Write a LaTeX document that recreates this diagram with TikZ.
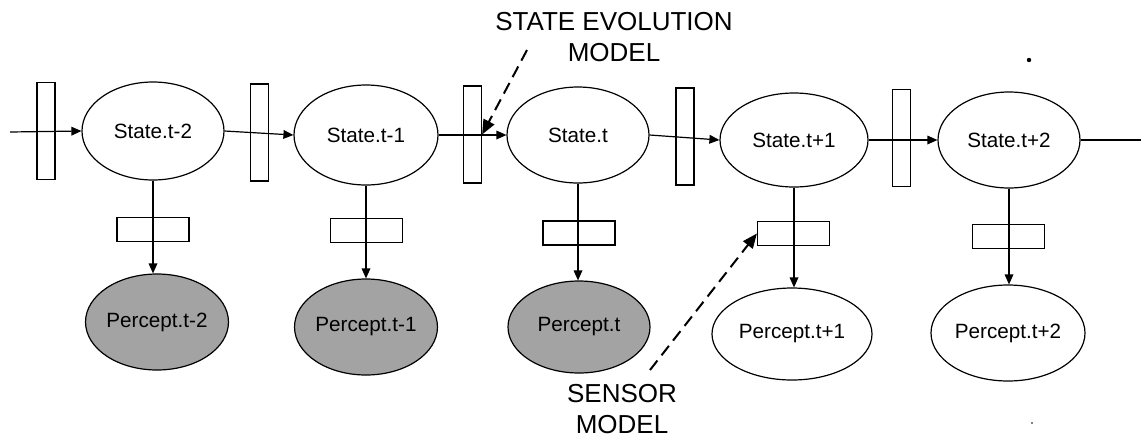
\documentclass[tikz,border=0pt]{standalone}
\usepackage{fontspec}
\setmainfont{Liberation Sans}
\usetikzlibrary{arrows.meta,shapes.geometric}
\begin{document}
\begin{tikzpicture}[x=0.75pt,y=-0.75pt,
  line width=0.9pt,
  statenode/.style={draw,ellipse,inner sep=0pt,font=\fontsize{15.5}{18}\selectfont,
    minimum width=144*0.75pt,minimum height=97*0.75pt},
  perceptnode/.style={statenode},
  observed/.style={fill=black!36},
  gatebox/.style={draw,rectangle,inner sep=0pt,minimum width=18*0.75pt,minimum height=97*0.75pt},
  sensbox/.style={draw,rectangle,inner sep=0pt,minimum width=72*0.75pt,minimum height=24*0.75pt},
  flow/.style={-{Triangle[length=7.5pt,width=6.5pt]}},
  callout/.style={dashed,line width=1.5pt,dash pattern=on 9pt off 5pt,-{Triangle[length=11pt,width=9pt]}},
  labeltext/.style={align=center,font=\fontsize{19.5}{23.5}\selectfont,inner sep=0pt}
]
\useasboundingbox (0,0) rectangle (1141,440);
% gates (state evolution model boxes)
\node[gatebox] (r0) at (46,131) {};
\node[gatebox] (r1) at (259.5,132.5) {};
\node[gatebox] (r2) at (472.5,134.5) {};
\node[gatebox] (r3) at (685,136.5) {};
\node[gatebox] (r4) at (901.5,138) {};
% states
\node[statenode,minimum width=142*0.75pt,minimum height=98*0.75pt] (s2m) at (153,131) {State.t-2};
\node[statenode,minimum width=144*0.75pt,minimum height=100*0.75pt] (s1m) at (366,135) {State.t-1};
\node[statenode,minimum width=142*0.75pt,minimum height=96*0.75pt] (s0) at (578,135) {State.t};
\node[statenode,minimum width=148*0.75pt,minimum height=94*0.75pt] (s1p) at (794,140) {State.t+1};
\node[statenode,minimum width=142*0.75pt,minimum height=96*0.75pt] (s2p) at (1009,140) {State.t+2};
% sensor boxes
\node[sensbox] (b2m) at (153,229.5) {};
\node[sensbox] (b1m) at (366.5,230.5) {};
\node[sensbox] (b0) at (579,233) {};
\node[sensbox] (b1p) at (793.5,233.5) {};
\node[sensbox] (b2p) at (1008.5,236.5) {};
% percepts
\node[perceptnode,observed,minimum width=140*0.75pt,minimum height=96*0.75pt] (p2m) at (157,322) {Percept.t-2};
\node[perceptnode,observed,minimum width=142*0.75pt,minimum height=96*0.75pt] (p1m) at (366,327) {Percept.t-1};
\node[perceptnode,observed,minimum width=142*0.75pt,minimum height=92*0.75pt] (p0) at (579,327) {Percept.t};
\node[perceptnode,minimum width=160*0.75pt,minimum height=92*0.75pt] (p1p) at (792,334) {Percept.t+1};
\node[perceptnode,minimum width=154*0.75pt,minimum height=96*0.75pt] (p2p) at (1008,333) {Percept.t+2};
% chain
\coordinate (cin) at (10,132);
\coordinate (cout) at (1152,140);
\draw[flow] (cin) -- (s2m.west);
\draw[flow] (s2m.east) -- (s1m.west);
\draw[flow] (s1m.east) -- (s0.west);
\draw[flow] (s0.east) -- (s1p.west);
\draw[flow] (s1p.east) -- (s2p.west);
\draw[flow] (s2p.east) -- (cout);
% observations
\draw[flow] (s2m.south) -- (s2m.south |- p2m.north);
\draw[flow] (s1m.south) -- (s1m.south |- p1m.north);
\draw[flow] (s0.south) -- (s0.south |- p0.north);
\draw[flow] (s1p.south) -- (s1p.south |- p1p.north);
\draw[flow] (s2p.south) -- (s2p.south |- p2p.north);
% labels
\node[labeltext] (evo) at (614,37) {STATE EVOLUTION\\MODEL};
\node[labeltext] (sen) at (622,409) {SENSOR\\MODEL};
\coordinate (evostart) at (527,50);
\coordinate (senstart) at (650,370);
\draw[callout] (evostart) -- (r2.east);
\draw[callout] (senstart) -- (b1p.west);
% specks
\fill (1029,60) circle (2.2);
\fill (1032,423) circle (0.9);
\end{tikzpicture}
\end{document}
